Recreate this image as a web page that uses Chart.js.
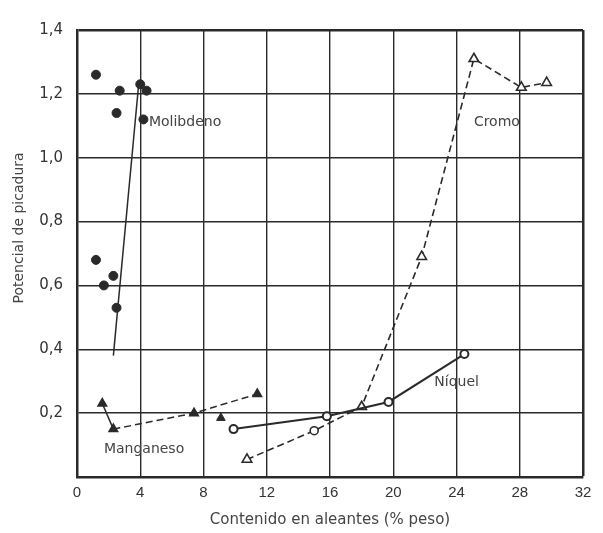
<!DOCTYPE html>
<html><head><meta charset="utf-8">
<script src="https://cdn.jsdelivr.net/npm/chart.js@4/dist/chart.umd.min.js"></script>
<style>html,body{margin:0;padding:0;background:#fff}#wrap{width:603px;height:533px}</style>
</head><body><div id="wrap"><canvas id="c" width="603" height="533"></canvas></div>
<script>
const xTicks = [0,4,8,12,16,20,24,28,32];
const yTicks = [0,0.2,0.4,0.6,0.8,1.0,1.2,1.4];
const moPointsX = [1.2,2.7,2.5,4.0,4.4,4.2,1.2,2.3,1.7,2.5];
const moPointsY = [1.26,1.21,1.14,1.23,1.21,1.12,0.68,0.63,0.60,0.53];
const moLineX = [2.3,3.9];
const moLineY = [0.38,1.23];
const mnX = [1.6,2.3,7.4,11.4];
const mnY = [0.23,0.15,0.20,0.26];
const mnExtraX = [9.1];
const mnExtraY = [0.185];
const niX = [9.9,15.8,19.7,24.5];
const niY = [0.15,0.19,0.235,0.385];
const crX = [10.75,15.0,18.0,21.8,25.1,28.1,29.7];
const crY = [0.055,0.145,0.22,0.69,1.31,1.22,1.235];
const crStyles = ['triangle','circle','triangle','triangle','triangle','triangle','triangle'];
const labels = [
  {text:'Molibdeno', x:4.55, y:1.11},
  {text:'Cromo', x:25.1, y:1.11},
  {text:'Níquel', x:22.6, y:0.295},
  {text:'Manganeso', x:1.7, y:0.088}
];
const yTitle = 'Potencial de picadura';
const pts = (xs,ys)=>xs.map((x,i)=>({x:x,y:ys[i]}));
const ink = '#2a2a2a';
const textCol = '#444';
const FAM = '"DejaVu Sans", "Liberation Sans", sans-serif';

const labelPlugin = {
  id:'seriesLabels',
  afterDatasetsDraw(chart){
    const {ctx, scales:{x,y}} = chart;
    ctx.save();
    ctx.fillStyle = textCol;
    ctx.font = '14px ' + FAM;
    ctx.textBaseline = 'middle';
    ctx.textAlign = 'left';
    labels.forEach(l=>ctx.fillText(l.text, x.getPixelForValue(l.x), y.getPixelForValue(l.y)));
    ctx.translate(19, y.getPixelForValue(0.78));
    ctx.rotate(-Math.PI/2);
    ctx.textAlign = 'center';
    ctx.fillText(yTitle, 0, 0);
    ctx.restore();
  }
};

new Chart(document.getElementById('c'), {
  type:'scatter',
  data:{datasets:[
    {data:pts(moPointsX,moPointsY), showLine:false, pointStyle:'circle', pointRadius:4.5, backgroundColor:ink, borderColor:ink, borderWidth:1},
    {data:pts(moLineX,moLineY), showLine:true, pointRadius:0, borderColor:ink, borderWidth:1.5},
    {data:pts(mnX,mnY), showLine:true, pointStyle:'triangle', pointRadius:5, backgroundColor:ink, borderColor:ink, borderWidth:1.5,
      segment:{borderDash: c => c.p0DataIndex===0 ? [] : [7,4]}},
    {data:pts(mnExtraX,mnExtraY), showLine:false, pointStyle:'triangle', pointRadius:5, backgroundColor:ink, borderColor:ink, borderWidth:1},
    {data:pts(niX,niY), showLine:true, pointStyle:'circle', pointRadius:4, backgroundColor:'#fff', borderColor:ink, borderWidth:2},
    {data:pts(crX,crY), showLine:true, pointStyle:crStyles, pointRadius:[5.5,4,5.5,5.5,5.5,5.5,5.5], backgroundColor:'#fff', borderColor:ink, borderWidth:1.6, borderDash:[7,4]}
  ]},
  options:{
    responsive:false, animation:false,
    layout:{padding:{left:0,right:20,top:30,bottom:0}},
    plugins:{legend:{display:false}, tooltip:{enabled:false}},
    scales:{
      x:{type:'linear', min:0, max:32,
        afterBuildTicks: s => { s.ticks = xTicks.map(v=>({value:v})); },
        afterFit: s => { s.height = 56; },
        grid:{color:ink, lineWidth: c => (c.tick && (c.tick.value===32)) ? 2.5 : 1.4, drawTicks:false},
        border:{color:ink, width:2.5},
        ticks:{color:'#333', font:{size:15, family:'"Liberation Sans", Arial, sans-serif'}, padding:7, maxRotation:0},
        title:{display:true, text:'Contenido en aleantes (% peso)', color:textCol, font:{size:15, family:FAM}, padding:{top:3}}
      },
      y:{type:'linear', min:0, max:1.4,
        afterBuildTicks: s => { s.ticks = yTicks.map(v=>({value:v})); },
        afterFit: s => { s.width = 77; },
        grid:{color:ink, lineWidth: c => (c.tick && Math.abs(c.tick.value-1.4)<1e-6) ? 2.5 : 1.4, drawTicks:false},
        border:{color:ink, width:2.5},
        ticks:{color:'#333', font:{size:15, family:FAM}, padding:14,
          callback: v => v===0 ? '' : v.toFixed(1).replace('.',',')},
        title:{display:false}
      }
    }
  },
  plugins:[labelPlugin]
});
</script></body></html>
